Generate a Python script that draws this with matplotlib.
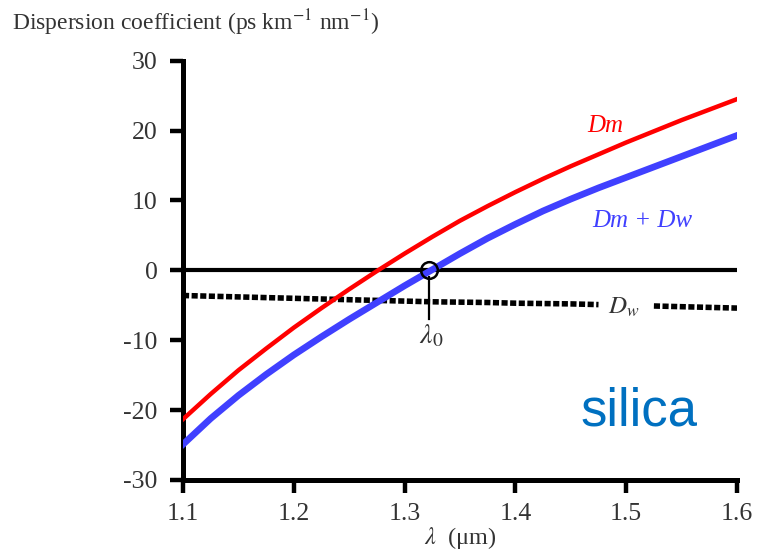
import matplotlib
matplotlib.use("Agg")
import matplotlib.pyplot as plt
import numpy as np

# Data
wavelength = [1.100, 1.125, 1.150, 1.175, 1.200, 1.225, 1.250, 1.275, 1.300, 1.325, 1.350,
              1.375, 1.400, 1.425, 1.450, 1.475, 1.500, 1.525, 1.550, 1.575, 1.600]
D_m = [-21.3, -17.7, -14.3, -11.2, -8.2, -5.4, -2.7, -0.1, 2.4, 4.8, 7.1,
       9.2, 11.2, 13.1, 14.9, 16.6, 18.3, 19.9, 21.5, 23.0, 24.5]
D_m_plus_w = [-24.9, -21.2, -17.9, -14.9, -12.1, -9.5, -7.0, -4.6, -2.2, 0.1, 2.4,
              4.6, 6.6, 8.5, 10.2, 11.8, 13.3, 14.8, 16.3, 17.8, 19.3]
D_w = [-3.6, -3.7, -3.8, -3.9, -4.0, -4.1, -4.2, -4.3, -4.4, -4.5, -4.55,
       -4.6, -4.7, -4.75, -4.8, -4.9, -5.0, -5.1, -5.2, -5.3, -5.4]
lambda0 = 1.322
dw_label_gap = (1.475, 1.525)
x_ticks = [1.1, 1.2, 1.3, 1.4, 1.5, 1.6]
x_ticklabels = ["1.1", "1.2", "1.3", "1.4", "1.5", "1.6"]
y_ticks = [-30, -20, -10, 0, 10, 20, 30]
y_ticklabels = ["-30", "-20", "-10", "0", "10", "20", "30"]

plt.rcParams['font.family'] = ['Liberation Serif', 'DejaVu Serif']
plt.rcParams['mathtext.fontset'] = 'stix'

W, H = 758, 553
fig = plt.figure(figsize=(W / 100, H / 100), dpi=100)
ax = fig.add_axes([183 / W, 1 - 480 / H, (737 - 183) / W, (480 - 60.7) / H])

txtc = '#333333'

wl = np.array(wavelength)
dw = np.array(D_w)
left = wl <= dw_label_gap[0]
right = wl >= dw_label_gap[1]
dotstyle = dict(color='black', lw=4.0, linestyle=(0, (1.1, 0.45)),
                dash_capstyle='butt', zorder=2)
ax.plot(wl[left], dw[left], **dotstyle)
ax.plot(wl[right], dw[right], **dotstyle)
ax.axhline(0, color='black', lw=3.0, zorder=3)
ax.plot(wavelength, D_m, color='#ff0000', lw=3.2, zorder=4)
ax.plot(wavelength, D_m_plus_w, color='#4040ff', lw=4.8, zorder=4)

# lambda0 marker
ax.plot([lambda0, lambda0], [-1.0, -6.9], color='black', lw=1.6, zorder=5)
ax.plot([lambda0], [0], marker='o', markersize=12, markerfacecolor='none',
        markeredgecolor='black', markeredgewidth=1.8, zorder=6)
ax.text(1.3238, -10.47, r"$\lambda_0$", ha='center', va='baseline', fontsize=20, color=txtc)

# labels
ax.text(1.4809, 19.8, "Dm", color='#ff0000', fontsize=18, style='italic',
        ha='center', va='baseline')
ax.text(1.5147, 6.24, "Dm + Dw", color='#4040ff', fontsize=18, style='italic',
        ha='center', va='baseline')
ax.text(1.4975, -6.17, r"$D_w$", color=txtc, fontsize=18, ha='center', va='baseline')
ax.text(1.5111, -22.24, "silica", color='#0070c0', fontsize=38, family='Liberation Sans',
        ha='center', va='baseline')

ax.set_xlim(1.1, 1.6)
ax.set_ylim(-30, 30)
ax.set_xticks(x_ticks)
ax.set_xticklabels(x_ticklabels)
ax.set_yticks(y_ticks)
ax.set_yticklabels(y_ticklabels)
for s in ['top', 'right']:
    ax.spines[s].set_visible(False)
for s in ['left', 'bottom']:
    ax.spines[s].set_linewidth(3.6)
    ax.spines[s].set_color('black')
    ax.spines[s].set_capstyle('projecting')
ax.tick_params(direction='out', length=9.4, width=3.2, colors='black',
               labelcolor=txtc, labelsize=18.5)
ax.tick_params(axis='x', pad=7.5)
ax.tick_params(axis='y', pad=9.0)

fig.text(460 / W, 1 - 544 / H, r"$\lambda$  (μm)", fontsize=17.5, color=txtc,
         ha='center', va='baseline')
fig.text(12 / W, 1 - 30 / H, r"Dispersion coefficient (ps km$^{-1}$ nm$^{-1}$)",
         fontsize=17, color=txtc, ha='left', va='baseline')

fig.savefig("out.png", dpi=100)
